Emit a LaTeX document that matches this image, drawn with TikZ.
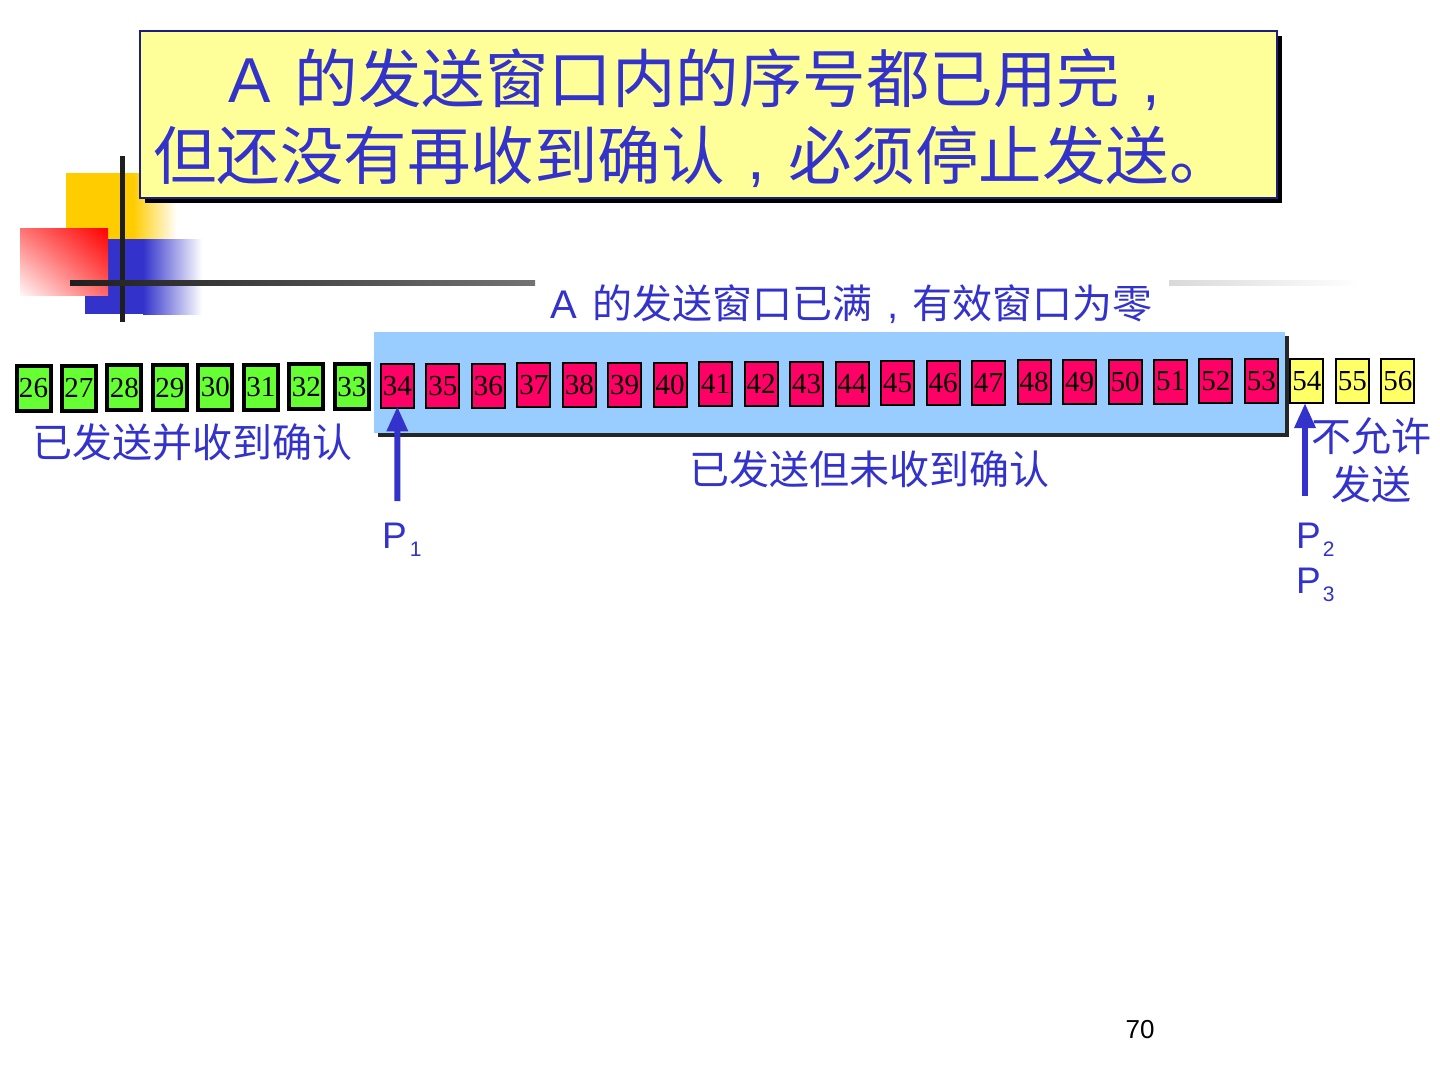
\documentclass[tikz,border=0pt]{standalone}
\usepackage{fontspec}
\setmainfont{Liberation Serif}
\newfontfamily\cjkf{Noto Sans CJK SC}
\newfontfamily\arialf{Liberation Sans}
\usetikzlibrary{arrows.meta,shadows,shadings}
\definecolor{txtblue}{HTML}{3333CC}
\definecolor{titlefill}{HTML}{FFFF99}
\definecolor{winfill}{HTML}{99CCFF}
\definecolor{pendred}{HTML}{FF0066}
\definecolor{ackgreen}{HTML}{66FF33}
\definecolor{blockyel}{HTML}{FFFF66}
\definecolor{logoyel}{HTML}{FFCC00}
\definecolor{logoblue}{HTML}{3333CC}
\tikzset{
  numbox/.style={draw=black, inner sep=0pt, text=black,
    font=\fontsize{29}{29}\selectfont},
  acked/.style={numbox, fill=ackgreen, line width=4pt, minimum width=34pt, minimum height=45pt},
  pending/.style={numbox, fill=pendred, line width=2pt, minimum width=33pt, minimum height=44pt},
  blocked/.style={numbox, fill=blockyel, line width=2pt, minimum width=33pt, minimum height=44pt},
  titlebox/.style={fill=titlefill, draw=txtblue!60!black, line width=1.5pt,
    minimum width=1137pt, minimum height=167pt, inner sep=0pt,
    general shadow={fill=black, shadow xshift=5pt, shadow yshift=-5pt}},
  winbox/.style={fill=winfill, inner sep=0pt, minimum width=911pt, minimum height=101pt,
    general shadow={fill=black!85, shadow xshift=4pt, shadow yshift=-4pt}},
  titletext/.style={text=txtblue, inner sep=0pt, anchor=base west,
    font=\cjkf\fontsize{63.5}{63.5}\selectfont},
  lbl/.style={text=txtblue, inner sep=0pt, anchor=base,
    font=\cjkf\fontsize{40}{40}\selectfont},
  plbl/.style={text=txtblue, inner sep=0pt, anchor=base west,
    font=\arialf\fontsize{37}{37}\selectfont},
  ptr/.style={draw=txtblue, line width=6pt, -{Triangle[width=20pt,length=25pt]}},
}
\newcommand{\psub}[1]{\raisebox{-8pt}{\fontsize{21}{21}\selectfont #1}}
\newcommand{\ccomma}{\makebox[1em][c]{\arialf ,}}
\begin{document}
\begin{tikzpicture}[x=1pt,y=-1pt]
\useasboundingbox (0,0) rectangle (1440,1080);
\fill[white] (0,0) rectangle (1440,1080);

% ---- logo decoration ----
\fill[logoyel] (66,173) rectangle (133,250);
\shade[left color=logoyel, right color=white] (133,173) rectangle (177,250);
\fill[logoblue] (85,239) rectangle (143,314);
\shade[left color=logoblue, right color=white] (143,239) rectangle (202,314);
\shade[upper left=red!55, upper right=red, lower left=red!3, lower right=red!60] (20,228) rectangle (108,295);
\fill[black!88] (120.3,156) rectangle (125.3,322);
\shade[left color=black!88, right color=black!55] (70,280.5) rectangle (535,285.5);
\shade[left color=black!15, right color=white] (1169,280.5) rectangle (1360,285.5);

% ---- title ----
\node[titlebox] (title) at (708.5,114.5) {};
\node[titletext] (t1) at (228,102) {{\arialf A}\hspace{24pt}的发送窗口内的序号都已用完\ccomma};
\node[titletext] (t2) at (153,179) {但还没有再收到确认\ccomma 必须停止发送。};

% ---- window ----
\node[text=txtblue, inner sep=0pt, anchor=base west, font=\cjkf\fontsize{40}{40}\selectfont] (head) at (550,318) {{\arialf A}\hspace{16pt}的发送窗口已满\ccomma 有效窗口为零};
\node[winbox] (win) at (829.5,382.5) {};

% ---- sequence boxes ----
\foreach \k in {26,...,56}{
  \pgfmathtruncatemacro\i{\k-26}
  \pgfmathsetmacro\bx{33.5+45.48*\i}
  \pgfmathsetmacro\by{388.5-7.5*min(\i,27)/27}
  \ifnum\k<34 \node[acked] (b\k) at (\bx,\by) {\k};\fi
  \ifnum\k>33 \ifnum\k<54 \node[pending] (b\k) at (\bx,\by) {\k};\fi\fi
  \ifnum\k>53 \node[blocked] (b\k) at (\bx,\by) {\k};\fi
}

% ---- labels ----
\node[lbl] (acklbl) at (192,457) {已发送并收到确认};
\node[lbl] (penlbl) at (869,484) {已发送但未收到确认};
\node[lbl] (no1) at (1371,451) {不允许};
\node[lbl] (no2) at (1371,499) {发送};

% ---- pointers ----
\coordinate (p1base) at (397.3,501);
\coordinate (p2base) at (1305,496);
\draw[ptr, shorten >=-3pt] (p1base) -- (b34.south);
\draw[ptr, shorten >=-1pt] (p2base) -- (b54.south -| p2base);
\node[plbl] (p1) at (382,548) {P\hspace{3pt}\psub{1}};
\node[plbl] (p2) at (1296,548) {P\hspace{2pt}\psub{2}};
\node[plbl] (p3) at (1296,593) {P\hspace{2pt}\psub{3}};

% ---- page number ----
\node[inner sep=0pt, font=\arialf\fontsize{26}{26}\selectfont] (page) at (1140,1030) {70};
\end{tikzpicture}
\end{document}
